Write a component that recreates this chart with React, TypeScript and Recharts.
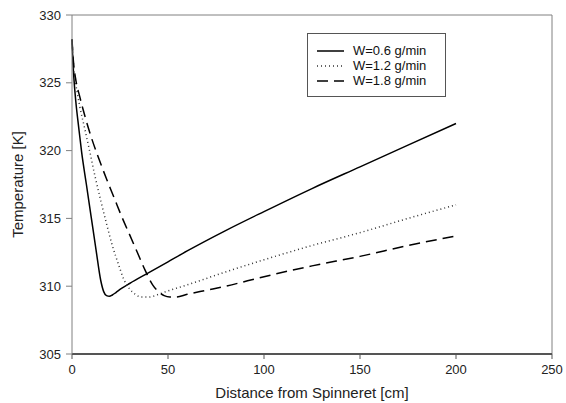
import { LineChart, Line, XAxis, YAxis, Legend, ReferenceLine } from "recharts"

// W = 0.6 g/min
const distA = [0, 0.5, 1, 2, 3.5, 5, 7.5, 10, 12.5, 15, 16.5, 18, 19.5, 21, 23, 26, 30, 40, 50, 60, 80, 100, 125, 150, 175, 200]
const tempA = [328.2, 326.5, 325.3, 323.6, 321.7, 319.9, 317.5, 315.1, 312.7, 310.4, 309.6, 309.3, 309.25, 309.35, 309.55, 309.85, 310.2, 311.0, 311.8, 312.6, 314.1, 315.5, 317.2, 318.8, 320.4, 322.0]

// W = 1.2 g/min
const distB = [0, 0.5, 1, 2, 4, 6.5, 9, 12, 15, 18, 21, 24, 27, 30, 33, 36, 40, 45, 50, 60, 80, 100, 125, 150, 175, 200]
const tempB = [328.2, 326.9, 326.0, 324.9, 323.3, 321.7, 320.1, 318.1, 316.3, 314.6, 313.0, 311.7, 310.5, 309.8, 309.4, 309.2, 309.2, 309.4, 309.65, 310.1, 311.05, 311.95, 313.0, 313.95, 315.0, 316.0]

// W = 1.8 g/min
const distC = [0, 0.5, 1, 2, 4, 7, 10, 14, 18, 22, 26, 30, 34, 38, 42, 45, 48, 51, 54, 60, 70, 80, 100, 125, 150, 175, 200]
const tempC = [328.2, 327.0, 326.2, 325.2, 324.0, 322.4, 321.0, 319.4, 317.9, 316.5, 315.1, 313.8, 312.5, 311.2, 310.1, 309.6, 309.3, 309.2, 309.2, 309.4, 309.7, 310.0, 310.7, 311.5, 312.2, 313.0, 313.7]

const xTicks = [0, 50, 100, 150, 200, 250]
const yTicks = [305, 310, 315, 320, 325, 330]

const toRows = (xs: number[], ys: number[]) => xs.map((x, i) => ({ x, t: ys[i] }))

const SERIES = [
  { name: "W=0.6 g/min", data: toRows(distA, tempA), dash: undefined as string | undefined, color: "#000" },
  { name: "W=1.2 g/min", data: toRows(distB, tempB), dash: "1 3", color: "#333" },
  { name: "W=1.8 g/min", data: toRows(distC, tempC), dash: "11 6", color: "#000" },
]

const FONT = '"Liberation Sans", Arial, sans-serif'

function LegendBox() {
  return (
    <div
      style={{
        width: 139,
        height: 64,
        border: "1px solid #555",
        background: "#fff",
        fontFamily: FONT,
        fontSize: 13,
        color: "#111",
        boxSizing: "border-box",
        paddingTop: 9,
      }}
    >
      {SERIES.map((s) => (
        <div key={s.name} style={{ display: "flex", alignItems: "center", height: 15, paddingLeft: 9 }}>
          <svg width={28} height={6} style={{ marginRight: 8 }}>
            <line x1={0} y1={3} x2={27} y2={3} stroke={s.color} strokeWidth={1.5} strokeDasharray={s.dash} />
          </svg>
          <span>{s.name}</span>
        </div>
      ))}
    </div>
  )
}

export default function App() {
  return (
    <div style={{ position: "absolute", left: 0, top: 0, background: "#fff" }}>
      <LineChart width={566} height={403} margin={{ top: 15, right: 14, left: 0, bottom: 0 }}>
        <XAxis
          type="number"
          dataKey="x"
          domain={[0, 250]}
          ticks={xTicks}
          height={49}
          tickSize={5}
          tickMargin={6}
          axisLine={{ stroke: "#555", strokeWidth: 2 }}
          tickLine={{ stroke: "#555" }}
          tick={{ fill: "#222", fontSize: 13, fontFamily: FONT }}
          label={{
            value: "Distance from Spinneret [cm]",
            position: "insideBottom",
            offset: 5,
            style: { fill: "#222", fontSize: 15, fontFamily: FONT },
          }}
        />
        <YAxis
          type="number"
          domain={[305, 330]}
          ticks={yTicks}
          width={72}
          tickSize={6}
          tickMargin={5}
          axisLine={{ stroke: "#808080" }}
          tickLine={{ stroke: "#808080" }}
          tick={{ fill: "#222", fontSize: 13, fontFamily: FONT }}
          label={{
            value: "Temperature [K]",
            angle: -90,
            position: "insideLeft",
            offset: 18,
            style: { fill: "#222", fontSize: 15, fontFamily: FONT, textAnchor: "middle" },
          }}
        />
        <ReferenceLine y={330} stroke="#808080" />
        <ReferenceLine x={250} stroke="#808080" />
        {SERIES.map((s) => (
          <Line
            key={s.name}
            data={s.data}
            dataKey="t"
            name={s.name}
            type="monotone"
            stroke={s.color}
            strokeWidth={1.5}
            strokeDasharray={s.dash}
            dot={false}
            isAnimationActive={false}
          />
        ))}
        <Legend
          layout="vertical"
          align="center"
          verticalAlign="middle"
          content={() => <LegendBox />}
          wrapperStyle={{ left: 307, top: 33, width: 139 }}
        />
      </LineChart>
    </div>
  )
}
